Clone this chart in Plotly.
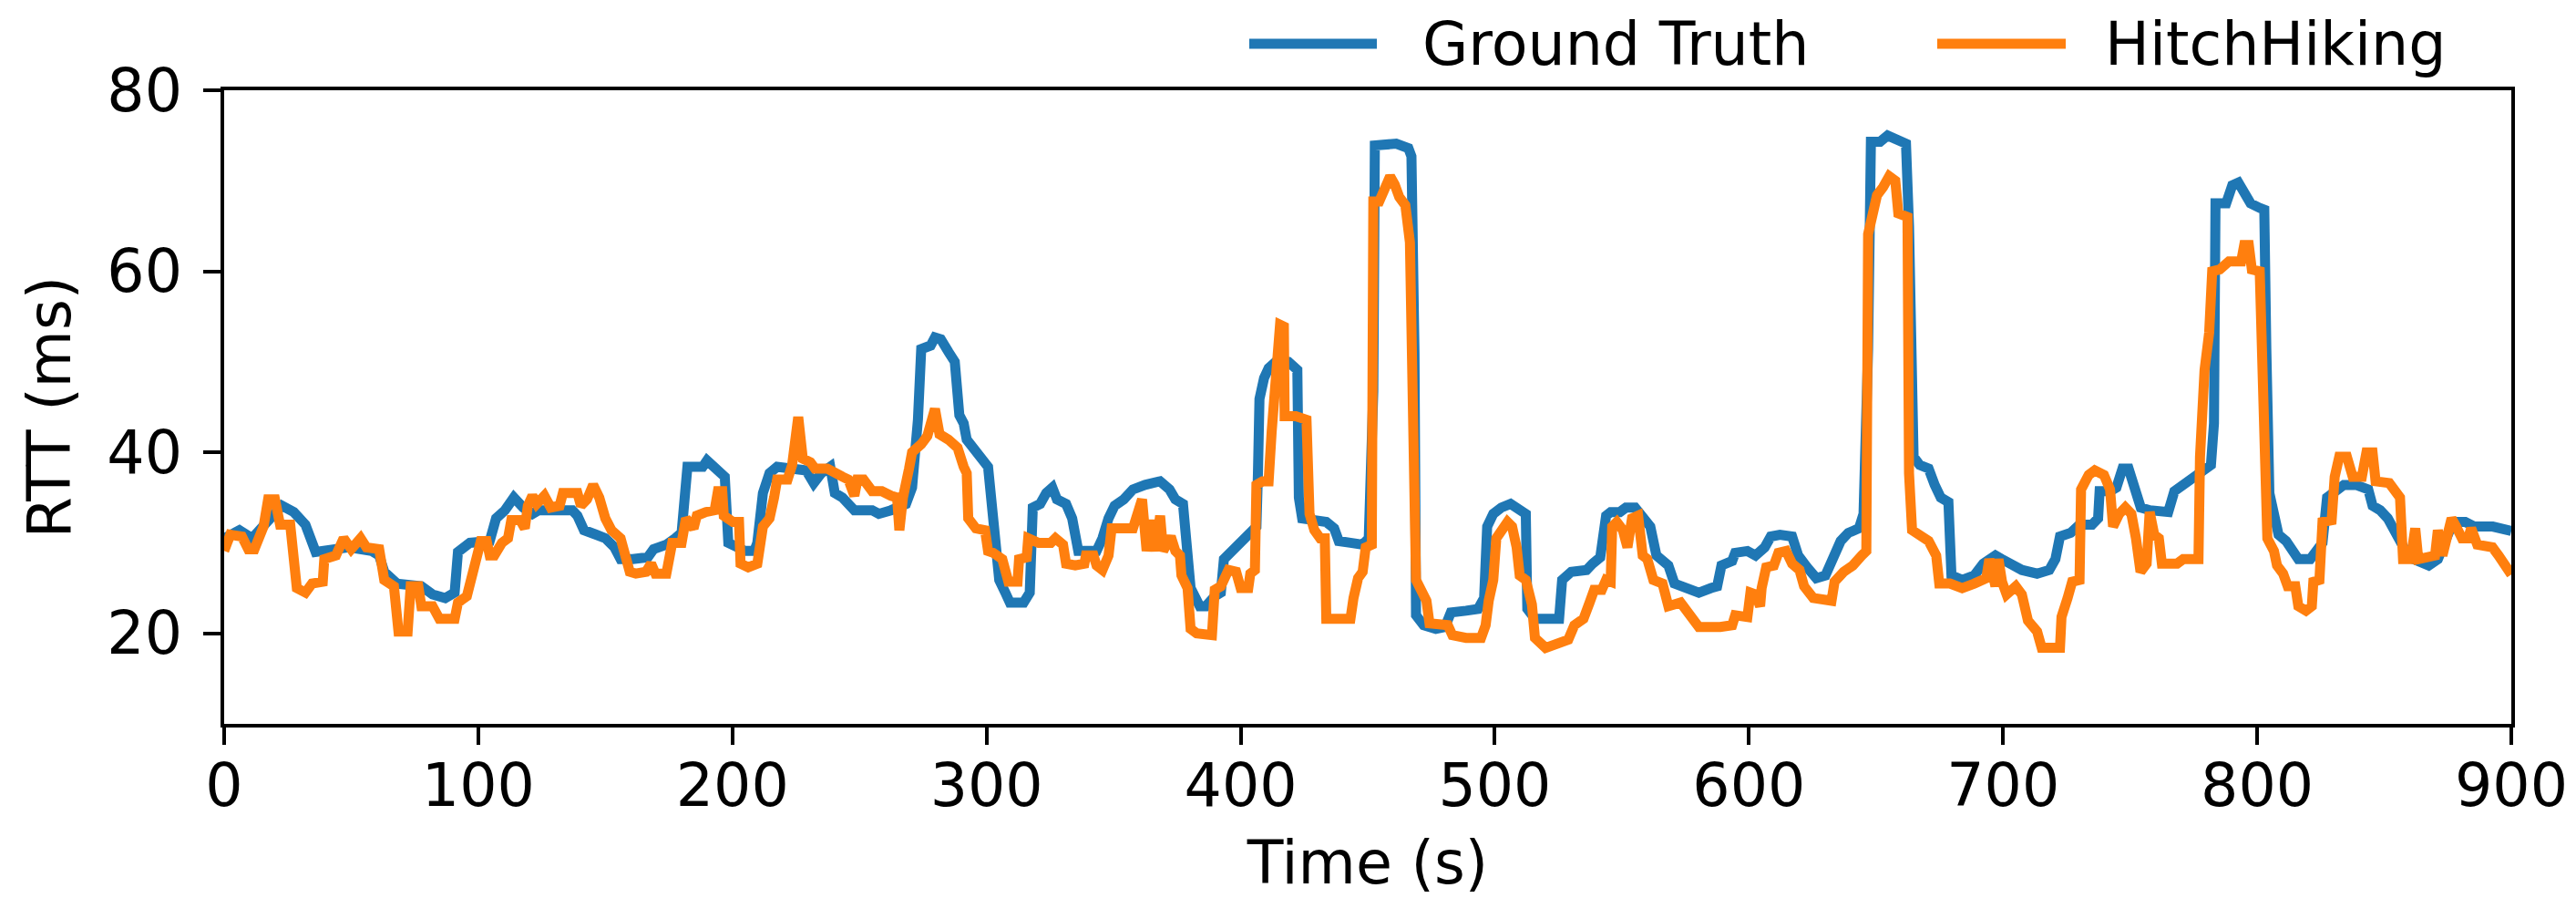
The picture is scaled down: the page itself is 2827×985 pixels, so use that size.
import plotly.graph_objects as go

# ---------------- data ----------------
gt_time = [0, 6, 11, 15.5, 19, 22.7, 27.4, 32, 36, 40, 49, 58, 61, 63, 68, 77.6, 82, 87, 90.7, 92, 96.7,
           104.5, 107, 110.5, 114, 117.7, 121.3, 123.7, 137, 139, 141.6, 146.4, 150, 153.6, 156, 160.8, 166.7,
           169, 174, 177.5, 180, 182.3, 188.3, 190, 193, 197, 198.4, 201.4, 205, 208.6, 209.8, 212, 214.6,
           217.6, 221.7, 229, 232, 235, 238.5, 240.3, 243.3, 245.6, 248, 255, 257.6, 262.4, 266, 268.3, 270.7,
           273, 274.3, 278, 279.7, 282, 285, 287.5, 289.3, 291, 292.2, 297, 300.6, 302.5, 303.8, 305, 307.4,
           309.2, 314.6, 317, 318.2, 321.1, 323.5, 325.9, 327.7, 331.3, 333.7, 336.1, 343.3, 345.6, 348, 350.4,
           354, 357.6, 362.4, 368.3, 372, 374.3, 377.3, 379.1, 380.3, 383.9, 386.3, 389.8, 392.2, 393.4, 397,
           400.6, 404.2, 406.2, 406.8, 407.4, 409.2, 411, 414.6, 418.8, 422.3, 422.9, 424.2, 429, 433.7, 436.8,
           438.6, 443.2, 448, 450.4, 452.2, 452.8, 456.4, 461.2, 466, 467.2, 468.4, 469, 472, 476.8, 480.4,
           482.7, 488.7, 493.4, 495.8, 497, 499.4, 502.6, 506.2, 509.8, 512.2, 512.8, 515.8, 525.3, 526.5,
           530.1, 536.1, 538.5, 541.5, 543.8, 545.6, 549.2, 551.6, 555.2, 558.8, 561.2, 563.6, 568.3, 570.7,
           575.5, 580.3, 585.1, 587.5, 589.2, 593.4, 594.6, 599.4, 602.6, 606.2, 608.6, 612.2, 617, 619.4,
           622.9, 626.5, 630.1, 632.5, 636.1, 639.1, 643.3, 645.1, 646.9, 648, 651.6, 654.6, 657.6, 661.8, 663,
           664.8, 667.2, 670.7, 673.1, 675.5, 678.5, 679.7, 683.9, 688.7, 692.2, 697, 699.5, 702.6, 707.4,
           713.4, 718.2, 720.6, 722.4, 726.6, 730.1, 735, 737.4, 738, 742.2, 744.6, 747, 749.4, 751.8, 754.2,
           757.8, 765, 767.4, 771, 774.6, 778.2, 781.8, 783, 783.6, 787.8, 790.2, 792.6, 795, 797.4, 801, 802.8,
           803.6, 804.8, 806.6, 808.4, 811.4, 813.8, 816.2, 820.9, 823.3, 825.7, 827.5, 831.7, 834.1, 838.9,
           843.7, 845.4, 848.4, 851.4, 854.4, 858, 861.6, 867.5, 871.1, 874.7, 877.1, 881.9, 885.5, 892.7,
           895, 900]
gt_rtt = [30.5, 31.4, 30.5, 31.8, 32.7, 34.1, 33.4, 32, 29, 29.1, 29.5, 29.1, 28.6, 26.8, 25.5, 25.2, 24.3, 23.9,
          24.5, 29, 30, 30.2, 32.7, 33.6, 35, 33.9, 33.2, 33.6, 33.6, 33, 31.4, 30.9, 30.5, 29.5, 28.2, 28.2,
          28.4, 29.3, 29.8, 30.5, 31.1, 38.4, 38.4, 39.1, 38.4, 37.3, 30, 29.5, 29.1, 29.1, 30, 35.5, 37.7,
          38.4, 38.2, 38, 36.6, 37.7, 38.4, 35.5, 35, 34.3, 33.6, 33.6, 33.2, 33.6, 33.9, 34.3, 36.1, 43.6,
          51.4, 51.8, 52.7, 52.5, 51.1, 50, 44.1, 43.2, 41.4, 39.8, 38.4, 33, 27.3, 25.9, 24.5, 23.4, 23.4, 24.5,
          33.9, 34.3, 35.5, 36.1, 34.8, 34.3, 32.7, 29.1, 29.1, 30.5, 32.7, 34.1, 34.8, 35.9, 36.4, 36.8, 35.9,
          34.8, 34.3, 28.6, 25, 23, 23, 24.1, 24.5, 28.2, 29.3, 30.2, 31.4, 31.8, 37.7, 45.9, 48.2, 49.3, 50.2,
          50, 49.1, 35, 32.7, 32.5, 32.3, 31.6, 30.2, 30, 29.8, 30.5, 46.8, 73.9, 73.9, 74.1, 73.6, 72.7, 51,
          22, 20.9, 20.5, 20.7, 22.3, 22.5, 22.7, 23.9, 31.8, 33.2, 33.9, 34.3, 33.6, 33.2, 22.7, 21.6, 21.6,
          25.9, 26.8, 27, 27.7, 28.4, 33, 33.4, 33.4, 33.9, 33.9, 32.7, 31.8, 28.6, 27.5, 25.5, 25, 24.5, 25,
          25.2, 27.5, 28, 28.9, 29.1, 28.6, 29.5, 30.7, 30.9, 30.7, 28.6, 27.3, 26.1, 26.4, 27.7, 30.2, 31.1,
          31.6, 33.2, 51.4, 74.3, 74.3, 75, 74.5, 74.1, 65, 39.5, 38.6, 38.2, 36.4, 35, 34.5, 26.4, 25.9, 26.4,
          27.7, 28.6, 28.2, 27.7, 27, 26.6, 27, 28.2, 30.7, 31.1, 32, 32, 32.7, 35.7, 35.7, 36.1, 38.2, 38.2,
          35.5, 33.9, 33.6, 33.4, 35.7, 36.4, 37.3, 38, 38.6, 43.2, 67.5, 67.5, 69.5, 69.8, 68.4, 67.5, 67,
          66.8, 51.4, 35.5, 33.2, 30.9, 30.2, 29.1, 28.2, 28.2, 29.1, 30, 35, 35.9, 36.4, 36.4, 35.9, 34.1,
          33.6, 32.7, 30.9, 29.3, 28.2, 27.5, 28.2, 30.5, 32.3, 32.3, 31.8, 31.8, 31.6, 31.3]

hh_time = [0, 2.4, 7, 9.5, 11.9, 15.5, 17.3, 20, 22, 26, 28.6, 32, 34.6, 38.8, 39.4, 44, 47, 50, 53.7, 56, 61,
           63, 66.8, 68.6, 72.2, 73.4, 76.4, 77.6, 82, 84.7, 90.7, 92, 95.5, 97.8, 101, 103.3, 104.5, 106.3,
           109.3, 111.7, 113, 116.5, 118.3, 119.5, 121.3, 123, 126, 128.5, 132, 133.3, 139, 140.4, 142.8,
           145.2, 147.6, 150, 152.4, 156, 157, 159.6, 162, 166, 168, 169.7, 174, 176.3, 180, 181.7, 184.7, 186,
           189.5, 193, 194.3, 196, 196.6, 200.2, 202.6, 203.2, 206.2, 209.8, 212, 214.6, 216.4, 217.6, 221.7,
           223.5, 225.9, 227.7, 230.7, 232.5, 237.3, 240.9, 243.3, 245.6, 248, 249.2, 251.6, 255, 258.8, 262.4,
           264.8, 265.7, 267.1, 269.5, 270.7, 274.3, 276.7, 279.7, 281.5, 285, 288.6, 291, 292.2, 292.8,
           295.8, 299.4, 300.6, 302.6, 306.2, 308.6, 312.2, 312.8, 315.8, 316.4, 320.5, 325.3, 327.1, 330.1,
           331.3, 334.9, 338.5, 339.1, 342.1, 343.3, 345.6, 348, 349.2, 357.6, 358.8, 361.2, 363, 364.8,
           366.6, 368.3, 369.5, 372.5, 374.3, 376.1, 376.7, 379.1, 380.3, 382.7, 388.7, 389.8, 392.2, 395.2,
           398.2, 400, 403, 403.8, 405.6, 406.2, 408.6, 411, 412.2, 414, 415.5, 417, 417.3, 421.7, 425.9, 427.1,
           429, 431.3, 433.1, 433.7, 443.2, 444.4, 446.2, 448, 449.2, 451.6, 452.2, 454.5, 456.4, 458.8, 460.6,
           462.4, 464.8, 466.6, 469, 470.8, 473.1, 474.3, 477.9, 481.5, 483.3, 488.7, 494.6, 496.4, 497.6,
           499.4, 500.6, 503, 505, 506.8, 508.6, 509.8, 512.2, 514.6, 515.8, 520, 524.1, 528.9, 531.3, 534.9,
           537.3, 539.1, 542.1, 543.8, 545.6, 546.2, 548, 550.4, 552.2, 554, 556.4, 558.2, 560, 562.4, 566,
           568.3, 573.1, 576.7, 580.3, 588.7, 593.4, 594.6, 599.4, 600.6, 602.6, 604.4, 605, 606.8, 609.8,
           611.6, 614.6, 617, 619.9, 621.7, 625.3, 632.5, 633.7, 637.3, 640.9, 644.4, 646.2, 646.9, 648.6,
           650.4, 652.8, 655.2, 657.6, 658.8, 662.4, 663, 664.2, 667.2, 670.7, 673.7, 674.9, 679.1, 683.9,
           688.7, 693.4, 694.6, 697, 698.2, 699.6, 701.4, 705, 707.4, 709.8, 713.4, 715.2, 722.4, 723, 725.4,
           727.2, 730.1, 730.7, 733.7, 736.1, 739.7, 742.1, 743.3, 745.7, 748.1, 750.5, 752.3, 754.1, 756.5,
           757.7, 759.5, 761.3, 762.5, 768.5, 770.9, 776.9, 777.5, 779.3, 781.1, 782.3, 785.3, 788.9, 793.7,
           794.9, 796.7, 797.9, 801, 802.8, 804, 806.6, 807.8, 810.2, 812, 815, 816.2, 819.2, 821.5, 822.1,
           824.5, 825.7, 829.3, 830.5, 832.3, 835.3, 837.6, 841.2, 843, 845.4, 846.6, 852, 854.4, 856.2,
           857.4, 860.4, 862.2, 863.4, 870, 871.1, 872.9, 874.7, 876.5, 878.3, 880.6, 883, 884.2, 886.6,
           892.6, 895, 896.8, 899.2, 900]
hh_rtt = [29.1, 30.9, 30.7, 29.3, 29.3, 31.8, 34.8, 34.8, 32, 32, 25, 24.5, 25.5, 25.7, 28.2, 28.6, 30.5, 29.3,
          30.5, 29.5, 29.3, 25.9, 25.2, 20.2, 20.2, 25.2, 25.2, 23, 23, 21.6, 21.6, 23.4, 24.1, 26.8, 30.2,
          30.2, 28.6, 28.6, 30, 30.5, 32.5, 32.5, 31.6, 34.1, 35.2, 34.3, 35.2, 33.9, 34.1, 35.5, 35.5, 34.1,
          34.8, 36.4, 35, 32.7, 31.4, 30.5, 29.1, 26.8, 26.6, 26.8, 27.7, 26.6, 26.6, 30, 30, 32.7, 31.6, 33,
          33.4, 33.6, 35.7, 35.7, 33, 32.3, 32.3, 27.7, 27.3, 27.7, 31.8, 32.7, 35, 37, 37, 38.6, 43.9, 39.3,
          38.9, 38.2, 38.2, 37.5, 37.3, 37, 35.2, 37, 37, 35.7, 35.7, 35.2, 35, 31.4, 35, 38.2, 40, 40.9, 41.8,
          44.8, 42, 41.4, 40.5, 38.4, 37.7, 32.7, 31.6, 31.4, 29.1, 28.9, 28.2, 25.7, 25.7, 28.2, 28.4, 30.5,
          30, 30, 30.5, 29.8, 27.7, 27.5, 27.7, 28.6, 28.6, 27.5, 27, 28.6, 31.6, 31.6, 32.7, 34.8, 29.1, 32.5,
          29.1, 33, 29.1, 30.7, 29.1, 28.6, 26.4, 25, 20.5, 20, 19.8, 24.8, 25.2, 27, 26.8, 25, 25, 26.6, 27,
          36.4, 36.8, 36.8, 42.3, 48.6, 54.1, 53.9, 44, 44, 43.6, 33.2, 31.4, 30.5, 30.5, 21.6, 21.6, 23.9,
          26.1, 26.8, 29.5, 29.8, 67.7, 67.7, 68.9, 70.5, 69.6, 68.2, 67.3, 63.2, 25.9, 25, 23.6, 21.1, 21.1,
          20.9, 19.8, 19.5, 19.5, 20.9, 23.6, 25.9, 30.5, 31.4, 32.3, 31.8, 29.5, 26.4, 25.9, 23.2, 19.5, 18.4,
          18.9, 19.3, 20.9, 21.6, 23.4, 24.8, 24.8, 25.9, 25.7, 31.8, 32.3, 31.4, 29.5, 32.7, 33, 28.6, 28.2,
          25.9, 25.5, 23, 23.4, 21.8, 20.7, 20.7, 20.9, 22, 21.8, 24.5, 24.3, 23, 25, 27.3, 27.5, 28.9, 29.1,
          27.7, 27, 25.2, 23.9, 23.6, 25.7, 26.8, 27.5, 28.6, 29.1, 64.1, 66.4, 68.4, 69.3, 70.5, 70, 66.4, 66,
          37.7, 31.4, 30.9, 30.2, 28.6, 25.5, 25.5, 25, 25.5, 26.1, 28.2, 25.2, 28.2, 25.7, 24.3, 25.2, 24.3,
          21.4, 20.2, 18.4, 18.4, 21.8, 23.9, 25.7, 25.9, 35.9, 37.5, 38, 37.5, 35.9, 31.8, 33.2, 33.9, 33.2,
          30.5, 26.8, 27.7, 33.4, 30.9, 30.5, 27.7, 27.7, 28.2, 28.2, 39.5, 49.1, 53.2, 60, 60.2, 61.1, 61.1,
          62.9, 62.9, 60.2, 60, 42.3, 30.5, 29.1, 27.5, 26.6, 25.2, 25.2, 23, 22.5, 23, 25.7, 25.9, 32.3, 32.5,
          37.3, 39.5, 39.5, 37.3, 37.3, 40, 40, 36.8, 36.6, 35.5, 35, 28.2, 28.2, 31.6, 28.2, 28.6, 31.4, 28.6,
          31.4, 32.7, 31.8, 30.5, 30.5, 31.6, 29.8, 29.5, 28.6, 27.7, 26.8, 26.5]

series_names = ["Ground Truth", "HitchHiking"]
series_colors = ["#1f77b4", "#ff7f0e"]
x_ticks = [0, 100, 200, 300, 400, 500, 600, 700, 800, 900]
y_ticks = [20, 40, 60, 80]

# ---------------- layout geometry (px) ----------------
W, H = 2827, 985
L, R, T, B = 238, 2748, 91, 786
FONT = "DejaVu Sans"
FS = 65
LW = 11

fig = go.Figure()
for (xs, ys), name, col in zip([(gt_time, gt_rtt), (hh_time, hh_rtt)], series_names, series_colors):
    fig.add_trace(go.Scatter(x=xs, y=ys, mode="lines", name=name,
                             line=dict(color=col, width=LW), showlegend=False))

def px_x(p):
    return (p - L) / (R - L)

def px_y(p):
    return (B - p) / (B - T)

# custom legend (matplotlib style: long line samples above the plot, right aligned)
leg_y = px_y(40)
leg_items = [(1363, 1503, 1551), (2118, 2259, 2300)]
shapes = []
annotations = []
for (x0, x1, tx), name, col in zip(leg_items, series_names, series_colors):
    shapes.append(dict(type="line", xref="paper", yref="paper", x0=px_x(x0), x1=px_x(x1),
                       y0=leg_y, y1=leg_y, line=dict(color=col, width=11)))
    annotations.append(dict(xref="paper", yref="paper", x=px_x(tx), y=leg_y, text=name,
                            showarrow=False, xanchor="left", yanchor="middle",
                            font=dict(family=FONT, size=FS, color="black")))

axis_common = dict(showline=True, linecolor="black", linewidth=4, mirror=True,
                   ticks="outside", ticklen=19, tickwidth=4, tickcolor="black",
                   showgrid=False, zeroline=False,
                   tickfont=dict(family=FONT, size=FS, color="black"))

fig.update_layout(
    width=W, height=H, autosize=False,
    margin=dict(l=L, r=W - R, t=T, b=H - B, pad=0),
    paper_bgcolor="white", plot_bgcolor="white",
    font=dict(family=FONT, size=FS, color="black"),
    shapes=shapes, annotations=annotations,
    xaxis=dict(range=[0, 900], tickvals=x_ticks, ticklabelstandoff=-11,
               title=dict(text="Time (s)", font=dict(family=FONT, size=FS, color="black"), standoff=26),
               **axis_common),
    yaxis=dict(range=[10, 80], tickvals=y_ticks, ticklabelstandoff=10,
               title=dict(text="RTT (ms)", font=dict(family=FONT, size=FS, color="black"), standoff=20),
               **axis_common),
)

fig.write_html("out.html")
